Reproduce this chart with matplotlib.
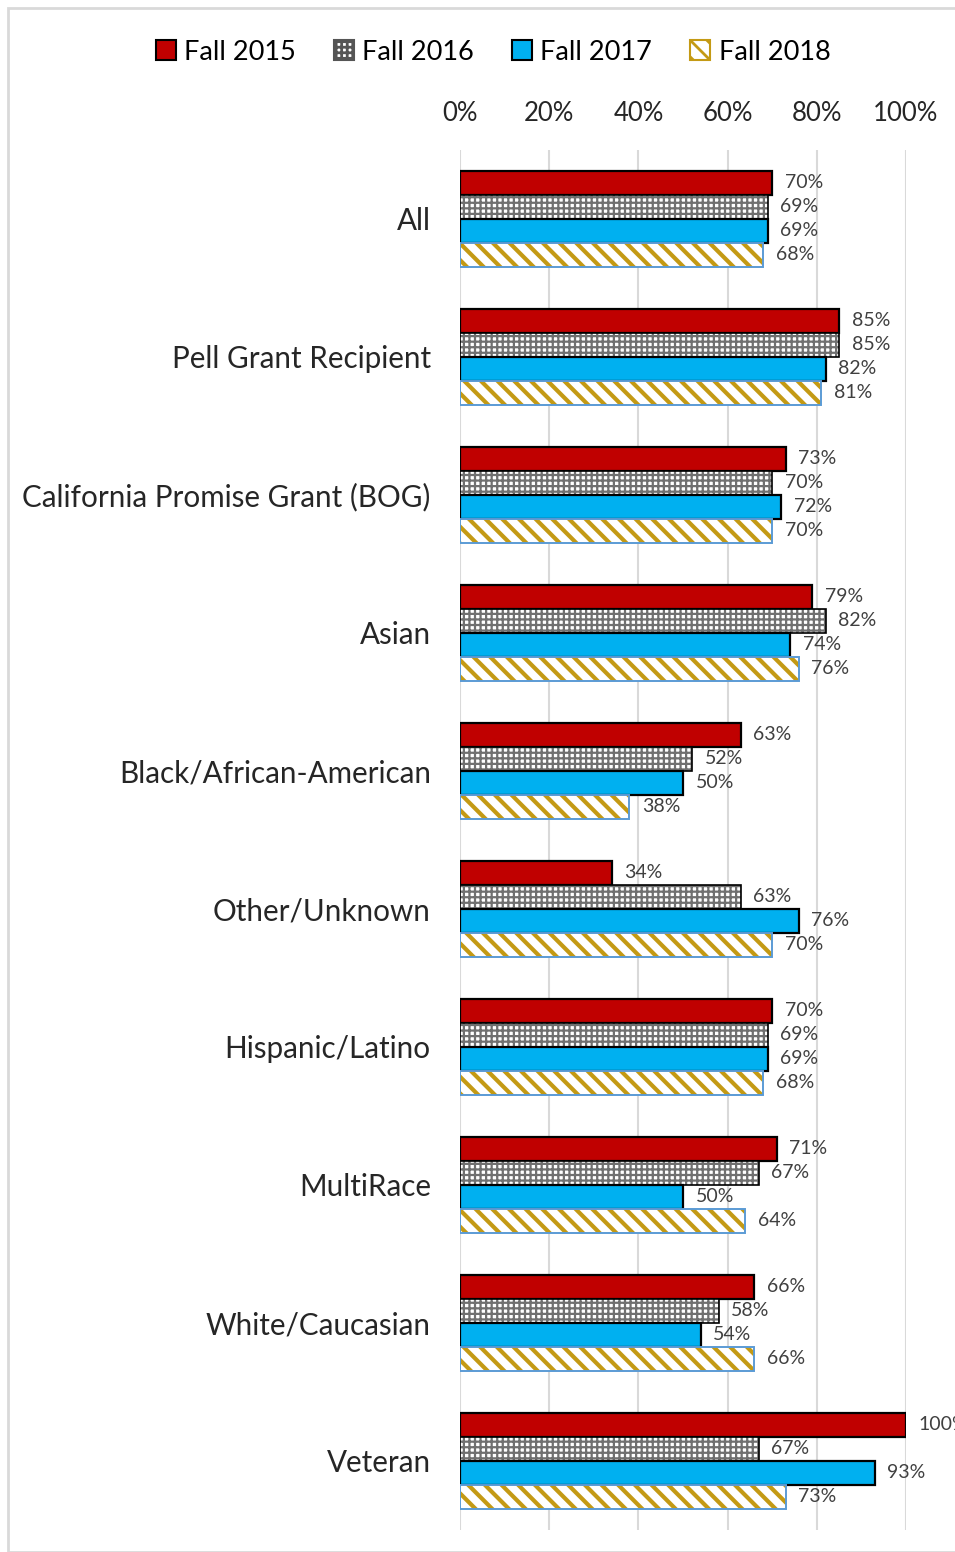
import matplotlib.pyplot as plt
from matplotlib.patches import Rectangle, Patch
from matplotlib.ticker import FuncFormatter
import numpy as np

categories = ["All", "Pell Grant Recipient", "California Promise Grant (BOG)",
              "Asian", "Black/African-American", "Other/Unknown",
              "Hispanic/Latino", "MultiRace", "White/Caucasian", "Veteran"]
series = ["Fall 2015", "Fall 2016", "Fall 2017", "Fall 2018"]
fall_2015 = [70, 85, 73, 79, 63, 34, 70, 71, 66, 100]
fall_2016 = [69, 85, 70, 82, 52, 63, 69, 67, 58, 67]
fall_2017 = [69, 82, 72, 74, 50, 76, 69, 50, 54, 93]
fall_2018 = [68, 81, 70, 76, 38, 70, 68, 64, 66, 73]
values = [fall_2015, fall_2016, fall_2017, fall_2018]

plt.rcParams['font.family'] = ['Lato', 'DejaVu Sans']

fig = plt.figure(figsize=(9.55, 15.52), dpi=100)
ax = fig.add_axes([0.4817, 0.0142, 0.9487 - 0.4817, 0.9034 - 0.0142])

# chart border
fig.patches.append(Rectangle((8 / 955, 0), 1, 1 - 8 / 1552, transform=fig.transFigure,
                             fill=False, edgecolor="#D9D9D9", linewidth=2))

y = np.arange(len(categories))
h = 24 / 138
offsets = [-1.5, -0.5, 0.5, 1.5]

# Fall 2015 - solid red
ax.barh(y + offsets[0] * h, fall_2015, height=h, color="#C00000",
        edgecolor="black", linewidth=1.6, zorder=3)

# Fall 2016 - checker pattern
plt.rcParams['hatch.linewidth'] = 1.6
ax.barh(y + offsets[1] * h, fall_2016, height=h, color="white",
        edgecolor="#707070", linewidth=0, hatch="+++", zorder=3)
ax.barh(y + offsets[1] * h, fall_2016, height=h, fill=False,
        edgecolor="black", linewidth=1.2, zorder=4)

# Fall 2017 - solid blue
ax.barh(y + offsets[2] * h, fall_2017, height=h, color="#00B0F0",
        edgecolor="black", linewidth=1.6, zorder=3)

# Fall 2018 - gold diagonal stripes
plt.rcParams['hatch.linewidth'] = 3.0
ax.barh(y + offsets[3] * h, fall_2018, height=h, color="white",
        edgecolor="#C49A14", linewidth=0, hatch="\\\\", zorder=3)
ax.barh(y + offsets[3] * h, fall_2018, height=h, fill=False,
        edgecolor="#5B9BD5", linewidth=1.4, zorder=4)

for k, vals in enumerate(values):
    for i, v in enumerate(vals):
        ax.annotate(f"{v}%", (v, y[i] + offsets[k] * h), xytext=(9, 0),
                    textcoords="offset points", va="center", ha="left",
                    fontsize=14, color="#404040", annotation_clip=False)

ax.set_xlim(0, 100)
ax.set_ylim(len(categories) - 0.5, -0.5)
ax.set_xticks(range(0, 101, 20))
ax.xaxis.set_major_formatter(FuncFormatter(lambda v, p: f"{v:.0f}%"))
ax.xaxis.tick_top()
ax.tick_params(axis="x", length=0, labelsize=18.5, pad=17, colors="#262626")
ax.set_yticks(y)
ax.set_yticklabels(categories)
ax.tick_params(axis="y", length=0, labelsize=21.3, pad=21, colors="#262626")
ax.grid(axis="x", color="#D9D9D9", linewidth=1.5, zorder=0)
ax.set_axisbelow(True)
for s in ax.spines.values():
    s.set_visible(False)

# legend
plt.rcParams['hatch.linewidth'] = 2.0
handles = [
    Patch(facecolor="#C00000", edgecolor="black", linewidth=1.5),
    Patch(facecolor="white", edgecolor="#555555", hatch="+++", linewidth=1.5),
    Patch(facecolor="#00B0F0", edgecolor="black", linewidth=1.5),
    Patch(facecolor="white", edgecolor="#C49A14", hatch="\\\\", linewidth=1.5),
]
fig.legend(handles, series, loc="center", bbox_to_anchor=(493 / 955, 1 - 52 / 1552),
           ncol=4, frameon=False, fontsize=19.5, handlelength=0.75, handleheight=0.75,
           handletextpad=0.3, columnspacing=1.4)

fig.savefig("out.png", dpi=100)
